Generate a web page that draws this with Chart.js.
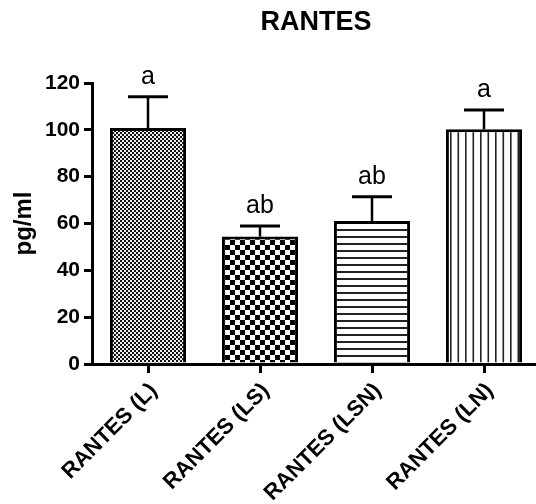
<!DOCTYPE html>
<html><head><meta charset="utf-8">
<script src="https://cdn.jsdelivr.net/npm/chart.js@4.4.1/dist/chart.umd.min.js"></script>
<style>html,body{margin:0;padding:0;overflow:hidden;background:#fff;width:536px;height:504px}canvas{display:block}</style>
</head><body>
<canvas id="c" width="540" height="504"></canvas>
<script>
const categories = ['RANTES (L)', 'RANTES (LS)', 'RANTES (LSN)', 'RANTES (LN)'];
const means = [100.8, 54.4, 61.1, 100.2];
const sem = [13.3, 4.5, 10.3, 8.3];
const letters = ['a', 'ab', 'ab', 'a'];
const yTicks = [0, 20, 40, 60, 80, 100, 120];
const chartTitle = 'RANTES';
const yTitle = 'pg/ml';

const FONT = '"Liberation Sans", Arial, Helvetica, sans-serif';
const canvas = document.getElementById('c');
const ctx = canvas.getContext('2d');

function makePattern(kind) {
  const t = document.createElement('canvas');
  const g = t.getContext('2d');
  if (kind === 'fine') {
    t.width = 4; t.height = 4;
    g.fillStyle = '#f0f0f0'; g.fillRect(0, 0, 4, 4);
    g.fillStyle = '#111'; g.fillRect(0, 0, 2, 2); g.fillRect(2, 2, 2, 2);
  } else if (kind === 'checker') {
    t.width = 10; t.height = 10;
    g.fillStyle = '#fff'; g.fillRect(0, 0, 10, 10);
    g.fillStyle = '#000'; g.fillRect(0, 0, 5, 5); g.fillRect(5, 5, 5, 5);
  } else if (kind === 'hlines') {
    t.width = 7; t.height = 7;
    g.fillStyle = '#fff'; g.fillRect(0, 0, 7, 7);
    g.fillStyle = '#222'; g.fillRect(0, 5, 7, 2);
  } else {
    t.width = 15; t.height = 15;
    g.fillStyle = '#fff'; g.fillRect(0, 0, 15, 15);
    g.fillStyle = '#222'; g.fillRect(0, 0, 1.6, 15); g.fillRect(7.5, 0, 1.6, 15);
  }
  return ctx.createPattern(t, 'repeat');
}
const fills = ['fine', 'checker', 'hlines', 'vlines'].map(makePattern);

const extras = {
  id: 'extras',
  afterDatasetsDraw(chart) {
    const c = chart.ctx;
    const y = chart.scales.y;
    const meta = chart.getDatasetMeta(0);
    c.save();
    c.strokeStyle = '#000';
    c.fillStyle = '#000';
    meta.data.forEach((bar, i) => {
      const top = y.getPixelForValue(means[i] + sem[i]);
      c.lineWidth = 2.5;
      c.beginPath(); c.moveTo(bar.x, bar.y); c.lineTo(bar.x, top); c.stroke();
      c.lineWidth = 3;
      c.beginPath(); c.moveTo(bar.x - 20, top); c.lineTo(bar.x + 20, top); c.stroke();
      c.font = '25px ' + FONT;
      c.textAlign = 'center';
      c.textBaseline = 'alphabetic';
      c.fillText(letters[i], bar.x, top - 13);
    });
    const a = chart.chartArea;
    c.font = 'bold 27px ' + FONT;
    c.textAlign = 'center';
    c.textBaseline = 'middle';
    c.fillText(chartTitle, (a.left + a.right) / 2, 23);
    c.restore();
  }
};

new Chart(ctx, {
  type: 'bar',
  data: {
    labels: categories,
    datasets: [{
      data: means,
      backgroundColor: fills,
      borderColor: '#000',
      borderWidth: 3,
      borderSkipped: 'bottom',
      barPercentage: 0.68,
      categoryPercentage: 1
    }]
  },
  options: {
    responsive: false,
    animation: false,
    layout: { padding: { top: 83, left: 0, right: 0, bottom: 0 } },
    plugins: { legend: { display: false }, tooltip: { enabled: false }, title: { display: false } },
    scales: {
      x: {
        offset: true,
        ticks: { color: '#000', font: { family: FONT, size: 22, weight: 'bold' }, maxRotation: 45, minRotation: 45, autoSkip: false, padding: 5, labelOffset: 6 },
        grid: { drawOnChartArea: false, offset: false, tickLength: 9, lineWidth: 3, color: '#000' },
        border: { display: true, width: 3, color: '#000' },
        afterFit(s) { s.height = 140; }
      },
      y: {
        min: 0, max: 120,
        afterBuildTicks(s) { s.ticks = yTicks.map(v => ({ value: v })); },
        ticks: { color: '#000', font: { family: FONT, size: 21, weight: 'bold' }, padding: 4 },
        grid: { drawOnChartArea: false, tickLength: 8, lineWidth: 3, color: '#000' },
        border: { display: true, width: 3, color: '#000' },
        title: { display: true, text: yTitle, color: '#000', font: { family: FONT, size: 24, weight: 'bold' }, padding: { top: 10, bottom: 0 } },
        afterFit(s) { s.width = 92; }
      }
    }
  },
  plugins: [extras]
});
</script>
</body></html>
